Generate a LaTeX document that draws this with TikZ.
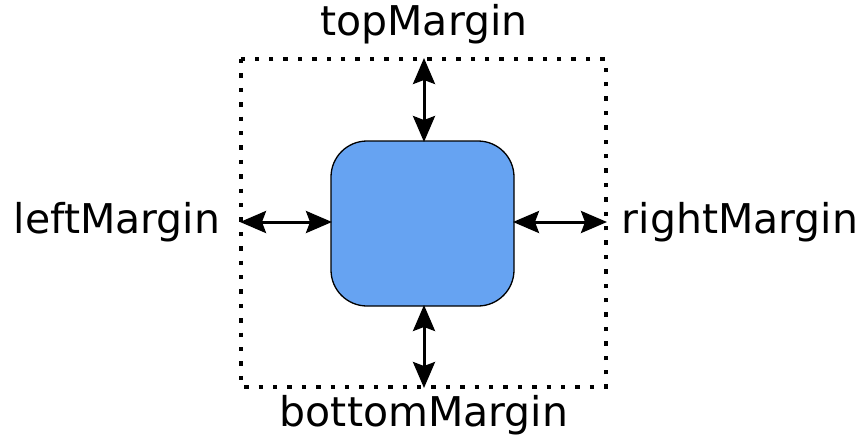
\documentclass[tikz,border=0pt]{standalone}
\usepackage{fontspec}
\setmainfont{DejaVu Sans}
\usetikzlibrary{arrows.meta}
\definecolor{boxblue}{HTML}{66A3F2}
\tikzset{
  x=1pt, y=-1pt,
  lbl/.style={font=\fontsize{41}{48}\selectfont, inner sep=0pt, anchor=center},
  marginarrow/.style={line width=3pt, {Stealth[length=26pt,width=22pt,inset=4pt]}-{Stealth[length=26pt,width=22pt,inset=4pt]}, shorten <=-1pt, shorten >=-1pt},
  frame/.style={line width=4.4pt, dash pattern=on 4.4pt off 10pt},
  itembox/.style={draw=black, line width=1.3pt, fill=boxblue, rounded corners=36pt}
}
\begin{document}
\begin{tikzpicture}
\useasboundingbox (0,0) rectangle (862,437);
\draw[frame] (241,59) rectangle (606,387);
\node[itembox, minimum width=183pt, minimum height=165pt, inner sep=0pt] (box) at (422.5,223.5) {};
\coordinate (ft) at (424,59);
\coordinate (fb) at (424,387);
\coordinate (fl) at (241,222);
\coordinate (fr) at (606,222);
\coordinate (bt) at (424,141);
\coordinate (bb) at (424,306);
\coordinate (bl) at (331,222);
\coordinate (br) at (514,222);
\draw[marginarrow] (ft) -- (bt);
\draw[marginarrow] (bb) -- (fb);
\draw[marginarrow] (fl) -- (bl);
\draw[marginarrow] (br) -- (fr);
\node[lbl] (top) at (424,24) {topMargin};
\node[lbl] (bottom) at (424,415) {bottomMargin};
\node[lbl] (left) at (117,222) {leftMargin};
\node[lbl] (right) at (740,222) {rightMargin};
\end{tikzpicture}
\end{document}
